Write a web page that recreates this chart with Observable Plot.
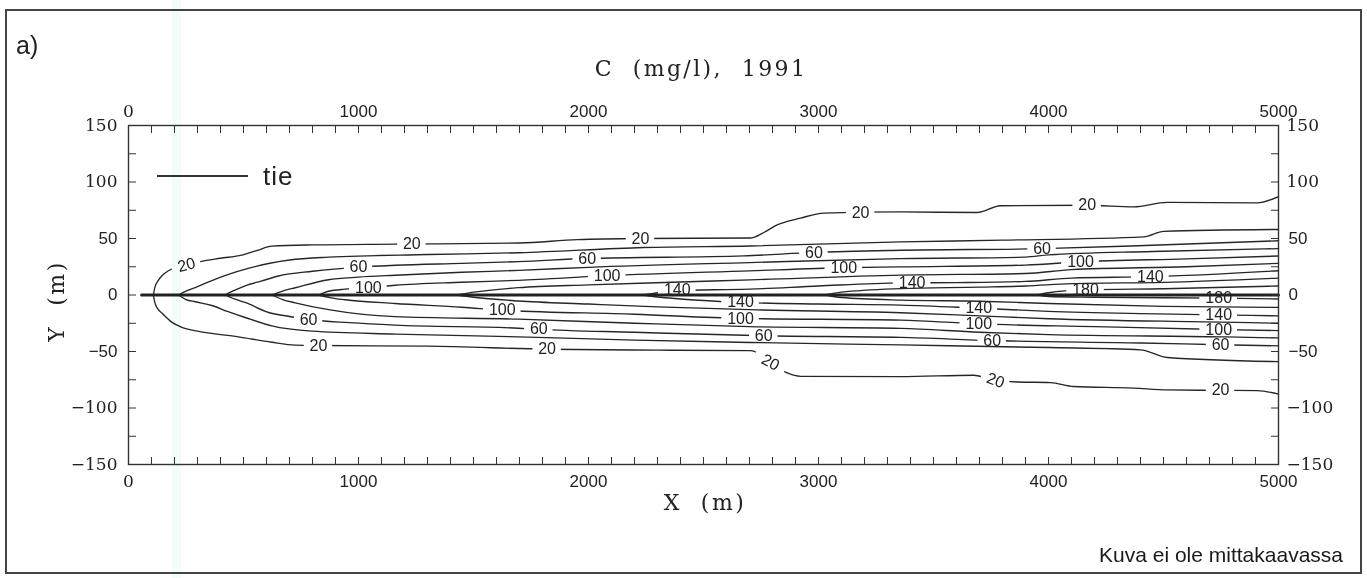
<!DOCTYPE html>
<html>
<head>
<meta charset="utf-8">
<script src="https://cdn.jsdelivr.net/npm/d3@7"></script>
<script src="https://cdn.jsdelivr.net/npm/@observablehq/plot@0.6"></script>
<style>
  body { margin: 0; background: #fff; }
  #fig { position: relative; width: 1367px; height: 578px; overflow: hidden;
         font-family: "Liberation Sans", Arial, sans-serif; color: #222; }
  #fig svg { position: absolute; left: 0; top: 0; }
  .abs { position: absolute; line-height: 1; white-space: pre; }
  .border { position: absolute; left: 5px; top: 9px; width: 1357px; height: 565px;
            border: 2px solid #444; box-sizing: border-box; }
  .serif { font-family: "DejaVu Serif", serif; }
  .stripe { position: absolute; left: 172px; top: 0; width: 9px; height: 578px;
            background: #f1fcfb; mix-blend-mode: multiply; pointer-events: none; }
</style>
</head>
<body>
<div id="fig">
  <div class="border"></div>
  <div class="abs" style="left:16px; top:33px; font-size:25px;">a)</div>
  <div class="abs serif" style="left:701px; top:58px; font-size:22px; letter-spacing:2.4px; transform:translateX(-50%);">C  (mg/l),  1991</div>
  <div class="abs serif" style="left:705px; top:492px; font-size:22px; letter-spacing:2.5px; transform:translateX(-50%);">X  (m)</div>
  <div class="abs serif" style="left:57px; top:301px; font-size:22px; letter-spacing:2.5px; transform:translate(-50%,-50%) rotate(-90deg);">Y  (m)</div>
  <div class="abs" style="right:24px; top:544px; font-size:21px; color:#1a1a1a;">Kuva ei ole mittakaavassa</div>
</div>
<script>
// Concentration contours C (mg/l) along the road, year 1991.
const levels = [20, 40, 60, 80, 100, 120, 140, 160, 180];

// Upper (y > 0) branch of each contour, [x (m), y (m)], starting at its tip on the road.
const upper20 = [[108,0],[115,7],[128,12.5],[145,17],[170,21],[188,23],[252,26.5],[312,29.6],[400,32.5],[493,35.3],[560,39.5],[623,43.2],[800,44.3],[1160,45],[1700,46],[1951,49],[2226,50],[2704,50.4],[2762,55.3],[2820,62],[2922,68],[3023,72.5],[3357,73.5],[3690,73],[3791,79],[4168,79.4],[4370,78],[4516,82],[4907,81.5],[5000,87]];
const upper40 = [[217,0],[250,3.5],[290,6.6],[360,12.5],[435,18.2],[520,23.5],[609,27.9],[700,31],[870,33.5],[1304,35.8],[1700,37.4],[2240,42],[2704,43.4],[3357,47],[3800,48.5],[4414,51.5],[4501,56.3],[5000,58]];
const upper60 = [[420,0],[460,4],[507,8.1],[580,12.5],[652,16.8],[800,21],[1000,24.7],[1159,26.3],[1448,28],[1696,29.5],[1994,32.3],[2675,34.6],[2980,37.7],[3357,39.6],[3972,41],[4450,44],[5000,48]];
const upper80 = [[623,0],[670,3.5],[725,6.4],[870,13.5],[1000,15.8],[1159,17.5],[1449,20.1],[1696,21.8],[2000,24.5],[2700,28.7],[3357,32.2],[3900,33.5],[4000,35.5],[4450,38.5],[5000,41]];
const upper100 = [[826,0],[870,3.3],[942,5.2],[1043,6.3],[1159,8.6],[1448,11.3],[1696,13],[2081,17.1],[2700,21.4],[3110,24.1],[3357,24.9],[3900,26.5],[4139,29.4],[4600,32],[5000,34.5]];
const upper120 = [[1426,0],[1500,2.5],[1696,6.5],[2000,9],[2400,11.5],[2704,13.4],[3357,17.6],[3900,19],[4100,22.5],[4600,25],[5000,28]];
const upper140 = [[2239,0],[2300,2],[2386,4.1],[2700,5.2],[3000,8],[3357,10.7],[3600,11],[3900,12],[4100,15],[4443,16.2],[5000,21.5]];
const upper160 = [[3030,0],[3100,2.5],[3357,5.7],[3700,7],[3900,8],[4100,10],[4500,11.2],[5000,15]];
const upper180 = [[3951,0],[4000,2],[4161,4.5],[4500,5.5],[5000,8]];

// Lower (y < 0) branch of each contour.
const lower20 = [[108,0],[115,-7],[128,-12.5],[145,-16],[188,-24],[232,-28.6],[300,-32],[478,-37],[623,-41.8],[725,-44.3],[826,-44.7],[1300,-45.3],[1820,-48],[2300,-48.8],[2704,-49.2],[2750,-53],[2791,-59.7],[2864,-69],[2922,-72],[3357,-72.2],[3674,-71],[3770,-75.6],[3864,-77],[4009,-77.5],[4109,-81],[4370,-82.4],[4516,-84],[4748,-84.4],[4907,-84.6],[5000,-87.7]];
const lower40 = [[217,0],[250,-4],[290,-6],[362,-9.3],[430,-14.5],[507,-19.9],[623,-27.3],[797,-32],[1159,-34.6],[1696,-37],[2200,-40],[2704,-42],[3357,-44.2],[4000,-46.5],[4400,-48.5],[4516,-55.3],[5000,-59]];
const lower60 = [[420,0],[460,-3.5],[507,-6.6],[609,-15.5],[700,-19],[783,-21.7],[960,-24.5],[1159,-26.7],[1696,-29.4],[1784,-30.4],[2200,-33],[2762,-36.1],[3357,-37.5],[3755,-40.3],[4400,-42.5],[4748,-44],[5000,-45]];
const lower80 = [[623,0],[670,-4],[725,-6.9],[870,-13],[1159,-19.2],[1696,-21.4],[2200,-25],[2700,-28],[3357,-29.5],[3700,-33],[4000,-35],[4750,-37],[5000,-38]];
const lower100 = [[826,0],[880,-2.5],[942,-4.2],[1159,-7.5],[1449,-10.8],[1625,-13.4],[2200,-17],[2661,-20.7],[3357,-22.2],[3697,-25.6],[4200,-28],[4740,-30.5],[5000,-31.5]];
const lower120 = [[1426,0],[1500,-2],[1696,-5.3],[2000,-8],[2300,-10.5],[2700,-13],[3357,-15.7],[3700,-18.5],[4000,-21],[4750,-24],[5000,-25]];
const lower140 = [[2239,0],[2300,-1.8],[2400,-3.5],[2661,-6.5],[3000,-8],[3357,-8.9],[3697,-11.7],[4000,-14.5],[4400,-16.5],[4740,-17.6],[5000,-18.5]];
const lower160 = [[3030,0],[3100,-2.2],[3357,-4.5],[3700,-5.5],[4000,-7.5],[4500,-10],[5000,-11]];
const lower180 = [[3951,0],[4000,-1.3],[4200,-2],[4740,-2.8],[5000,-3.5]];

// Contour labels: [x, y, level, rotation in degrees]
const contourLabels = [
  [252,26.5,20,-15],[1232,45,20,0],[2226,50,20,0],[3183,72.7,20,0],[4168,79.4,20,0],
  [1000,24.7,60,0],[1994,32.3,60,0],[2980,37.7,60,0],[3972,41,60,0],
  [1043,6.3,100,0],[2081,17.1,100,0],[3110,24.1,100,0],[4139,29.4,100,0],
  [2386,4.1,140,0],[3407,10.7,140,0],[4443,16.2,140,0],[4161,4.5,180,0],
  [783,-21.7,60,0],[826,-44.7,20,0],[1625,-13.4,100,0],[1784,-30.4,60,0],[1820,-48,20,0],
  [2661,-6.5,140,0],[2661,-20.7,100,0],[2762,-36.1,60,0],[2791,-59.7,20,28],
  [3697,-11.7,140,0],[3697,-25.6,100,0],[3755,-40.3,60,0],[3770,-75.6,20,20],
  [4740,-2.8,180,0],[4740,-17.6,140,0],[4740,-30.5,100,0],[4748,-44,60,0],[4748,-84.4,20,0]
];

// The road ("tie") along y = 0
const roadX = [57, 5000];
const roadY = [0, 0];

// Axis tick labels
const xLabelsSans = [1000, 2000, 3000, 4000, 5000];
const xLabelsSerif = [0];
const yLabelsSerif = [-150, -100, 100, 150];
const yLabelsSans = [-50, 0, 50];
const xMinorTicks = d3.range(0, 5001, 100);
const yMinorTicks = d3.range(-150, 151, 25);

const W = 1367, H = 578;
const M = {left: 128, right: 89, top: 125, bottom: 114};
const xk = (W - M.left - M.right) / 5000;   // px per metre along x
const yk = (H - M.top - M.bottom) / 300;    // px per metre along y

const upperBranches = [upper20, upper40, upper60, upper80, upper100, upper120, upper140, upper160, upper180];
const lowerBranches = [lower20, lower40, lower60, lower80, lower100, lower120, lower140, lower160, lower180];

const contourRows = [];
levels.forEach((lv, i) => {
  upperBranches[i].forEach(([x, y]) => contourRows.push({x, y, key: lv + "u"}));
  lowerBranches[i].forEach(([x, y]) => contourRows.push({x, y, key: lv + "l"}));
});

const labelRows = contourLabels.map(([x, y, level, rotate]) => {
  const hw = String(level).length * 4.6 + 5;
  const hh = 4 + hw * Math.abs(Math.sin(rotate * Math.PI / 180));
  return {x, y, level, rotate, hw, hh};
});

const roadRows = roadX.map((x, i) => ({x, y: roadY[i]}));

const fmt = d => (d < 0 ? "\u2212" : "") + Math.abs(d);
const ink = "#262626";
const sans = "Liberation Sans, Arial, sans-serif";
const serif = "DejaVu Serif, serif";

const chart = Plot.plot({
  width: W, height: H,
  marginLeft: M.left, marginRight: M.right, marginTop: M.top, marginBottom: M.bottom,
  x: {domain: [0, 5000]},
  y: {domain: [-150, 150]},
  style: {background: "transparent", fontFamily: sans, fontSize: "17px", color: "#222", overflow: "visible"},
  marks: [
    Plot.line(contourRows, {x: "x", y: "y", z: "key", curve: "monotone-x", stroke: ink, strokeWidth: 1.35}),
    Plot.rect(labelRows, {x1: d => d.x - d.hw / xk, x2: d => d.x + d.hw / xk,
                          y1: d => d.y - d.hh / yk, y2: d => d.y + d.hh / yk, fill: "white"}),
    Plot.text(labelRows, {x: "x", y: "y", text: d => String(d.level), rotate: "rotate",
                          fontSize: 16, fontFamily: sans, fill: "#222"}),
    Plot.line(roadRows, {x: "x", y: "y", stroke: "#222", strokeWidth: 3}),
    Plot.frame({stroke: "#333", strokeWidth: 1.4}),
    // inward tick marks on all four sides
    Plot.axisX(xMinorTicks, {anchor: "bottom", tickSize: -7, tickFormat: () => "", label: null, stroke: "#333"}),
    Plot.axisX(xMinorTicks, {anchor: "top", tickSize: -7, tickFormat: () => "", label: null, stroke: "#333"}),
    Plot.axisY(yMinorTicks, {anchor: "left", tickSize: -8, tickFormat: () => "", label: null, stroke: "#333"}),
    Plot.axisY(yMinorTicks, {anchor: "right", tickSize: -8, tickFormat: () => "", label: null, stroke: "#333"}),
    // tick labels
    Plot.axisX(xLabelsSans, {anchor: "bottom", tickSize: 0, tickPadding: 10, tickFormat: fmt, label: null, fontFamily: sans, fontSize: 17, letterSpacing: 1}),
    Plot.axisX(xLabelsSerif, {anchor: "bottom", tickSize: 0, tickPadding: 10, tickFormat: fmt, label: null, fontFamily: serif, fontSize: 17}),
    Plot.axisX(xLabelsSans, {anchor: "top", tickSize: 0, tickPadding: 9, tickFormat: fmt, label: null, fontFamily: sans, fontSize: 17, letterSpacing: 1}),
    Plot.axisX(xLabelsSerif, {anchor: "top", tickSize: 0, tickPadding: 9, tickFormat: fmt, label: null, fontFamily: serif, fontSize: 17}),
    Plot.axisY(yLabelsSerif, {anchor: "left", tickSize: 0, tickPadding: 11, tickFormat: fmt, label: null, fontFamily: serif, fontSize: 17, letterSpacing: 1}),
    Plot.axisY(yLabelsSans, {anchor: "left", tickSize: 0, tickPadding: 11, tickFormat: fmt, label: null, fontFamily: sans, fontSize: 17, letterSpacing: 1}),
    Plot.axisY(yLabelsSerif, {anchor: "right", tickSize: 0, tickPadding: 8, tickFormat: fmt, label: null, fontFamily: serif, fontSize: 17, letterSpacing: 1}),
    Plot.axisY(yLabelsSans, {anchor: "right", tickSize: 0, tickPadding: 10, tickFormat: fmt, label: null, fontFamily: sans, fontSize: 17, letterSpacing: 1})
  ]
});

const fig = document.getElementById("fig");
fig.insertBefore(chart, fig.firstChild);

// legend for the road line
const legend = document.createElement("div");
legend.className = "abs";
legend.style.cssText = "left:157px; top:163px; font-size:26px; letter-spacing:1px;";
legend.innerHTML = '<span style="display:inline-block; width:91px; height:2.5px; background:#333; vertical-align:middle; margin-right:15px; position:relative; top:-2px;"></span>tie';
fig.appendChild(legend);

const stripe = document.createElement("div");
stripe.className = "stripe";
fig.appendChild(stripe);
</script>
</body>
</html>
